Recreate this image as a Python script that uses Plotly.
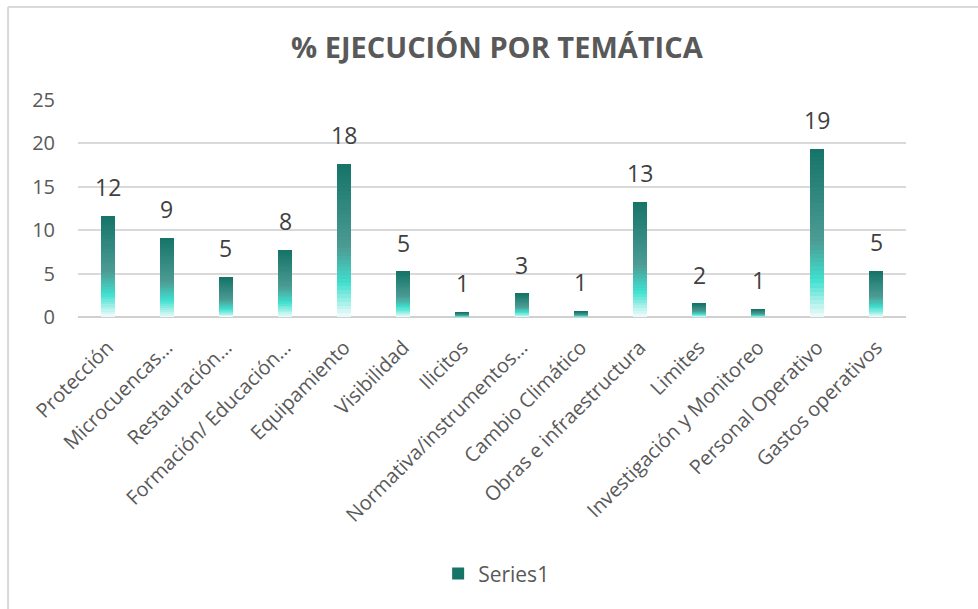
import plotly.graph_objects as go

# datos
categorias = [
    "Protección", "Microcuencas…", "Restauración…", "Formación/ Educación…",
    "Equipamiento", "Visibilidad", "Ilicitos", "Normativa/instrumentos…",
    "Cambio Climático", "Obras e infraestructura", "Limites",
    "Investigación y Monitoreo", "Personal Operativo", "Gastos operativos",
]
ejecucion = [11.6, 9.1, 4.6, 7.7, 17.6, 5.2, 0.55, 2.7, 0.65, 13.3, 1.55, 0.9, 19.4, 5.3]

# degradado vertical (abajo -> arriba), como en Excel
paradas = [(0.0, (242, 252, 251)), (0.22, (64, 224, 208)), (0.45, (76, 156, 148)), (1.0, (21, 115, 104))]
N_SEG = 40


def color_en(t):
    for (t0, c0), (t1, c1) in zip(paradas[:-1], paradas[1:]):
        if t0 <= t <= t1:
            f = (t - t0) / (t1 - t0)
            r, g, b = (round(a + (b_ - a) * f) for a, b_ in zip(c0, c1))
            return f"rgb({r},{g},{b})"
    return f"rgb{paradas[-1][1]}"


GRIS = "#595959"
FUENTE = "Open Sans"

fig = go.Figure()
for i in range(N_SEG):
    t = (i + 0.5) / N_SEG
    fig.add_trace(
        go.Bar(
            x=categorias,
            y=[v / N_SEG for v in ejecucion],
            marker=dict(color=color_en(t), line=dict(width=0)),
            name="Series1",
            showlegend=(i == N_SEG - 1),
            hoverinfo="skip",
        )
    )

for cat, v in zip(categorias, ejecucion):
    fig.add_annotation(
        x=cat, y=v, text=f"{v:.0f}", showarrow=False,
        yanchor="bottom", yshift=11,
        font=dict(family=FUENTE, size=23, color="#404040"),
    )

# borde del área del gráfico (recortado a la derecha y abajo)
fig.add_shape(type="line", xref="paper", yref="paper", x0=-0.0845, x1=-0.0845, y0=1.4286, y1=-1.5,
              line=dict(color="#d9d9d9", width=2))
fig.add_shape(type="line", xref="paper", yref="paper", x0=-0.0845, x1=1.2, y0=1.4286, y1=1.4286,
              line=dict(color="#d9d9d9", width=2))

fig.update_layout(
    barmode="stack",
    bargap=0.763,
    width=978,
    height=609,
    margin=dict(l=78, r=72, t=100, b=292),
    paper_bgcolor="white",
    plot_bgcolor="white",
    title=dict(
        text="<b>% EJECUCIÓN POR TEMÁTICA</b>",
        x=0.508, xanchor="center", y=0.921, yanchor="middle",
        font=dict(family=FUENTE, size=29, color=GRIS),
    ),
    font=dict(family=FUENTE, color=GRIS),
    legend=dict(
        orientation="h", x=0.505, xanchor="center", y=-1.184, yanchor="middle",
        font=dict(family=FUENTE, size=21, color=GRIS),
    ),
)
fig.update_xaxes(
    tickangle=-45, tickfont=dict(family=FUENTE, size=20, color=GRIS),
    showgrid=False, showline=False, ticks="", ticklabelstandoff=14,
)
fig.update_yaxes(
    range=[0, 25], dtick=5, tickfont=dict(family=FUENTE, size=20, color=GRIS),
    showgrid=True, gridcolor="#d9d9d9", gridwidth=1.5,
    zeroline=True, zerolinecolor="#d0d0d0", zerolinewidth=1.5,
    ticklabelstandoff=22,
)

fig.write_html(
    "out.html",
    config={"displayModeBar": False},
    post_script="document.body.style.margin='0';",
)
